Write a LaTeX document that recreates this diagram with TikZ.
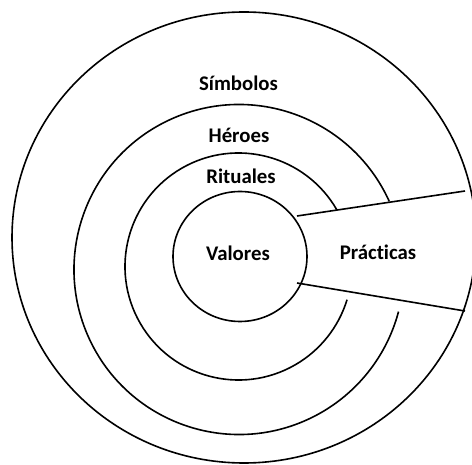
\documentclass[tikz,border=0pt]{standalone}
\usepackage{fontspec}
\setmainfont{Carlito}[Ligatures=NoCommon]
\begin{document}
\begin{tikzpicture}[x=1pt,y=1pt,
  ring/.style={line width=1.6pt, black},
  lbl/.style={font=\bfseries\fontsize{20.8}{24}\selectfont, anchor=base, inner sep=0pt, text=black}]
\useasboundingbox (0,0) rectangle (472,464);
\fill[white] (0,0) rectangle (472,464);
% outer
\draw[ring] (244,226.5) ellipse [x radius=232, y radius=225.5];
% Heroes ring (open on right)
\draw[ring] (239,194.5) ++(24.4:165) arc[start angle=24.4, end angle=345.2, radius=165];
% Rituales ring
\draw[ring] (238.5,197.5) ++(30:113.5) arc[start angle=30, end angle=343, radius=113.5];
% Valores
\draw[ring] (240,207.5) ellipse [x radius=67, y radius=65];
% Practicas wedge lines
\coordinate (u1) at (297,248);
\coordinate (u2) at (465,273);
\coordinate (l1) at (297,181);
\coordinate (l2) at (465,153);
\draw[ring] (u1) -- (u2);
\draw[ring] (l1) -- (l2);
% labels
\node[lbl] (sim) at (238.5,373.3) {Símbolos};
\node[lbl] (her) at (239,321.3) {Héroes};
\node[lbl] (rit) at (241,280.7) {Rituales};
\node[lbl] (val) at (238,203.3) {Valores};
\node[lbl] (pra) at (378,204) {Prác\kern0pt ticas};
\end{tikzpicture}
\end{document}
